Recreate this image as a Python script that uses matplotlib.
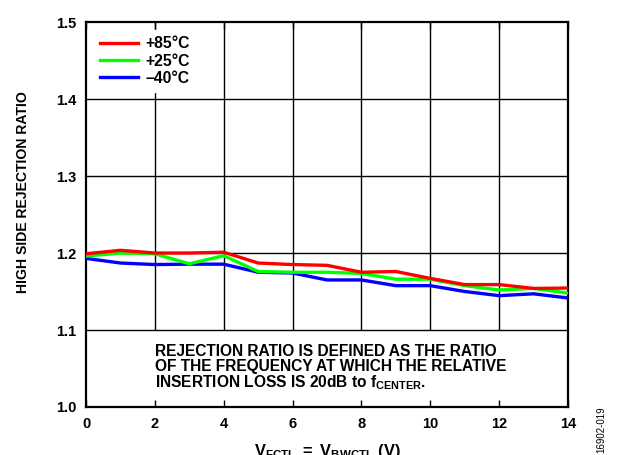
import matplotlib
matplotlib.use('Agg')
import matplotlib.pyplot as plt

plt.rcParams['font.family'] = 'Liberation Sans'
plt.rcParams['font.weight'] = 'bold'
plt.rcParams['mathtext.fontset'] = 'custom'
plt.rcParams['mathtext.rm'] = 'Liberation Sans:bold'
plt.rcParams['mathtext.bf'] = 'Liberation Sans:bold'
plt.rcParams['mathtext.it'] = 'Liberation Sans:bold'

# ── Date ──
v_ctl = [0, 1, 2, 3, 4, 5, 6, 7, 8, 9, 10, 11, 12, 13, 14]
ratio_85 = [1.199, 1.2035, 1.200, 1.200, 1.201, 1.187, 1.185, 1.184, 1.175, 1.176,
            1.167, 1.159, 1.159, 1.154, 1.1545]
ratio_25 = [1.196, 1.200, 1.199, 1.186, 1.1965, 1.176, 1.175, 1.175, 1.1735, 1.166,
            1.166, 1.1576, 1.152, 1.154, 1.148]
ratio_m40 = [1.193, 1.187, 1.185, 1.1855, 1.1855, 1.175, 1.174, 1.165, 1.165, 1.1576,
             1.1576, 1.150, 1.1446, 1.147, 1.1416]
labels = ['+85°C', '+25°C', '–40°C']
colors = ['#FF0000', '#00FF00', '#0000FF']

x_ticks = [0, 2, 4, 6, 8, 10, 12, 14]
y_ticks = [1.0, 1.1, 1.2, 1.3, 1.4, 1.5]

note_lines = ['REJECTION RATIO IS DEFINED AS THE RATIO',
              'OF THE FREQUENCY AT WHICH THE RELATIVE',
              r'INSERTION LOSS IS 20dB to $\mathrm{f_{CENTER}}$.']

fig = plt.figure(figsize=(6.17, 4.55), dpi=100)
ax = fig.add_axes([0.1394, 0.1055, 0.7812, 0.8461])

# grila: verticale doar deasupra casetei de text
ax.vlines(x_ticks[1:-1], 1.1, 1.5, color='black', linewidth=1.0, zorder=1)
ax.hlines(y_ticks[1:-1], 0, 14, color='black', linewidth=1.0, zorder=1)

ax.plot(v_ctl, ratio_m40, color=colors[2], linewidth=2.4, label=labels[2], zorder=3)
ax.plot(v_ctl, ratio_25, color=colors[1], linewidth=2.4, label=labels[1], zorder=4)
ax.plot(v_ctl, ratio_85, color=colors[0], linewidth=2.4, label=labels[0], zorder=5)

h, l = ax.get_legend_handles_labels()
leg = ax.legend(h[::-1], l[::-1], loc='upper left', frameon=True, fontsize=11.3,
                handlelength=2.4, handletextpad=0.5, labelspacing=0.15,
                borderaxespad=0.5, borderpad=0.4)
leg.get_frame().set_edgecolor('white')
leg.get_frame().set_alpha(1.0)
leg.set_zorder(6)

ax.set_xlim(0, 14)
ax.set_ylim(1.0, 1.5)
ax.set_xticks(x_ticks)
ax.set_yticks(y_ticks)
ax.tick_params(direction='in', length=5, width=1.0, top=True, right=False,
               labelsize=10.5, pad=7)
ax.tick_params(axis='y', length=0)
for s in ax.spines.values():
    s.set_linewidth(1.6)

fig.text(0.037, 0.578, 'HIGH SIDE REJECTION RATIO', rotation=90, fontsize=10.1,
         fontweight='bold', ha='center', va='center')
ax.text(0.5, -0.128, r'$\mathrm{V_{FCTL}\ =\ V_{BWCTL}\ (V)}$', transform=ax.transAxes,
        ha='center', va='baseline', fontsize=11.8)

# nota, cate un rand (spatiere egala)
for i, line in enumerate(note_lines):
    ax.text(2.0, 1.0666 - i * 0.0203, line, ha='left', va='baseline',
            fontsize=11.2, fontweight='bold')

fig.text(0.974, 0.005, '16902-019', rotation=90, fontsize=7, fontweight='normal',
         ha='center', va='bottom')

fig.savefig('out.png', dpi=100)
